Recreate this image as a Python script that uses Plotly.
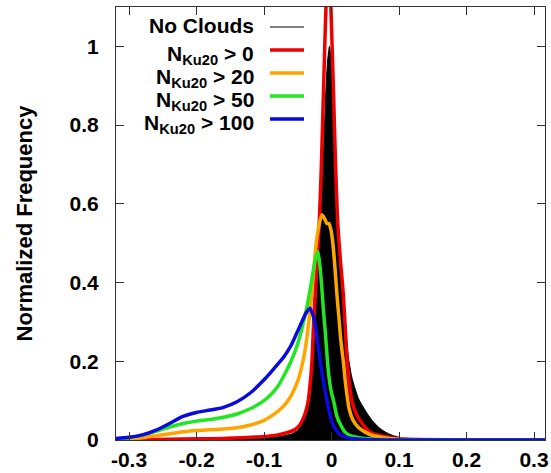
import plotly.graph_objects as go

# ---- data -------------------------------------------------------------
# No clouds (filled black histogram)
x_none = [-0.32, -0.2, -0.12, -0.08, -0.06, -0.05, -0.045, -0.04, -0.035, -0.031,
          -0.027, -0.023, -0.02, -0.016, -0.012, -0.009, -0.006, -0.003, 0.0, 0.003,
          0.006, 0.009, 0.013, 0.017, 0.021, 0.025, 0.03, 0.035, 0.04, 0.05,
          0.06, 0.07, 0.08, 0.09, 0.1, 0.12, 0.15, 0.2, 0.32]
y_none = [0.0, 0.001, 0.003, 0.008, 0.015, 0.025, 0.04, 0.06, 0.09, 0.14,
          0.22, 0.33, 0.42, 0.55, 0.72, 0.86, 0.96, 1.0, 0.95, 0.82,
          0.68, 0.56, 0.46, 0.37, 0.28, 0.21, 0.16, 0.13, 0.105, 0.075,
          0.05, 0.032, 0.02, 0.012, 0.007, 0.003, 0.001, 0.0, 0.0]

# N_Ku20 > 0
x_n0 = [-0.32, -0.28, -0.24, -0.2, -0.16, -0.13, -0.1, -0.08, -0.065, -0.055,
        -0.049, -0.044, -0.039, -0.035, -0.032, -0.029, -0.027, -0.024, -0.021, -0.018,
        -0.015, -0.012, -0.009, -0.0065, -0.0045, -0.0025, 0.0, 0.003, 0.006, 0.009,
        0.013, 0.0175, 0.0225, 0.026, 0.03, 0.037, 0.045, 0.057, 0.07, 0.085,
        0.1, 0.13, 0.2, 0.32]
y_n0 = [0.0, 0.001, 0.002, 0.003, 0.004, 0.006, 0.009, 0.013, 0.019, 0.026,
        0.034, 0.047, 0.068, 0.095, 0.136, 0.2, 0.28, 0.38, 0.47, 0.56,
        0.7, 0.88, 1.06, 1.17, 1.2, 1.17, 1.05, 0.88, 0.7, 0.56,
        0.46, 0.37, 0.22, 0.15, 0.1, 0.065, 0.043, 0.02, 0.012, 0.007,
        0.003, 0.001, 0.0, 0.0]

# N_Ku20 > 20
x_n20 = [-0.32, -0.3, -0.28, -0.26, -0.24, -0.22, -0.2, -0.18, -0.16, -0.14,
         -0.12, -0.1, -0.09, -0.08, -0.07, -0.06, -0.05, -0.045, -0.04, -0.035,
         -0.03, -0.026, -0.022, -0.018, -0.0145, -0.011, -0.007, -0.004, -0.001, 0.002,
         0.005, 0.008, 0.011, 0.014, 0.0175, 0.021, 0.026, 0.032, 0.04, 0.05,
         0.06, 0.08, 0.1, 0.15, 0.32]
y_n20 = [0.0, 0.002, 0.006, 0.011, 0.016, 0.021, 0.024, 0.026, 0.028, 0.031,
         0.038, 0.05, 0.06, 0.072, 0.088, 0.112, 0.15, 0.18, 0.22, 0.28,
         0.36, 0.44, 0.51, 0.55, 0.572, 0.565, 0.55, 0.55, 0.535, 0.5,
         0.44, 0.37, 0.31, 0.25, 0.2, 0.14, 0.08, 0.05, 0.032, 0.02,
         0.012, 0.005, 0.002, 0.0, 0.0]

# N_Ku20 > 50
x_n50 = [-0.32, -0.3, -0.28, -0.26, -0.24, -0.22, -0.2, -0.18, -0.16, -0.14,
         -0.12, -0.1, -0.09, -0.08, -0.07, -0.06, -0.05, -0.04, -0.034, -0.029,
         -0.025, -0.022, -0.02, -0.017, -0.0145, -0.012, -0.009, -0.006, -0.003, 0.0,
         0.003, 0.008, 0.013, 0.02, 0.03, 0.05, 0.08, 0.12, 0.32]
y_n50 = [0.002, 0.006, 0.013, 0.022, 0.033, 0.042, 0.048, 0.052, 0.058, 0.066,
         0.08, 0.1, 0.115, 0.135, 0.165, 0.2, 0.245, 0.31, 0.36, 0.41,
         0.45, 0.47, 0.478, 0.44, 0.39, 0.33, 0.27, 0.2, 0.15, 0.12,
         0.1, 0.06, 0.04, 0.02, 0.01, 0.004, 0.001, 0.0, 0.0]

# N_Ku20 > 100
x_n100 = [-0.32, -0.3, -0.28, -0.26, -0.24, -0.22, -0.2, -0.18, -0.16, -0.14,
          -0.12, -0.1, -0.09, -0.08, -0.07, -0.06, -0.05, -0.044, -0.038, -0.032,
          -0.028, -0.024, -0.02, -0.015, -0.01, -0.005, 0.0, 0.005, 0.012, 0.02,
          0.035, 0.05, 0.08, 0.32]
y_n100 = [0.004, 0.007, 0.013, 0.025, 0.042, 0.06, 0.07, 0.076, 0.083, 0.097,
          0.12, 0.153, 0.172, 0.192, 0.213, 0.24, 0.277, 0.3, 0.322, 0.335,
          0.32, 0.29, 0.24, 0.18, 0.13, 0.085, 0.05, 0.03, 0.015, 0.008,
          0.003, 0.001, 0.0, 0.0]

series_names = ["No Clouds", "N<sub>Ku20</sub> &gt; 0", "N<sub>Ku20</sub> &gt; 20",
                "N<sub>Ku20</sub> &gt; 50", "N<sub>Ku20</sub> &gt; 100"]
series_colors = ["#000000", "#ee0000", "#ffa500", "#22e622", "#0a0ae0"]

x_ticks = [-0.3, -0.2, -0.1, 0.0, 0.1, 0.2, 0.3]
x_tick_labels = ["-0.3", "-0.2", "-0.1", "0", "0.1", "0.2", "0.3"]
y_ticks = [0, 0.2, 0.4, 0.6, 0.8, 1.0]
y_tick_labels = ["0", "0.2", "0.4", "0.6", "0.8", "1"]

# ---- figure -----------------------------------------------------------
FONT = "Liberation Sans, Helvetica, Arial, sans-serif"
TXT = 21

fig = go.Figure()

fig.add_trace(go.Scatter(x=x_none, y=y_none, mode="lines", fill="tozeroy",
                         fillcolor="#000000",
                         line=dict(color=series_colors[0], width=1, shape="spline", smoothing=0.6),
                         showlegend=False))

for xs, ys, col in [(x_n0, y_n0, series_colors[1]),
                    (x_n20, y_n20, series_colors[2]),
                    (x_n50, y_n50, series_colors[3]),
                    (x_n100, y_n100, series_colors[4])]:
    fig.add_trace(go.Scatter(x=xs, y=ys, mode="lines",
                             line=dict(color=col, width=3.5, shape="spline", smoothing=0.6),
                             showlegend=False))

# key in the upper-left corner: right-aligned labels with line samples after them
key_rows_y = [27, 50, 73, 96, 119]  # pixel rows from the top of the page
plot_top, plot_bottom, plot_left, plot_right = 7, 440, 116, 545
ph = plot_bottom - plot_top
pw = plot_right - plot_left
for name, col, ry in zip(series_names, series_colors, key_rows_y):
    yp = (plot_bottom - ry) / ph
    fig.add_annotation(xref="paper", yref="paper",
                       x=(256 - plot_left) / pw, y=yp + (0.004 if name == "No Clouds" else -0.012),
                       xanchor="right", yanchor="middle", showarrow=False,
                       text=name, font=dict(family=FONT, size=TXT, color="#000000", weight="bold"))
    fig.add_shape(type="line", xref="paper", yref="paper",
                  x0=(270 - plot_left) / pw, x1=(304 - plot_left) / pw, y0=yp, y1=yp,
                  line=dict(color=col, width=1 if name == "No Clouds" else 3.5))

fig.add_annotation(xref="paper", yref="paper", x=(24 - plot_left) / pw, y=0.5,
                   xanchor="center", yanchor="middle", showarrow=False, textangle=-90,
                   text="Normalized Frequency",
                   font=dict(family=FONT, size=22, color="#000000", weight="bold"))

axis_common = dict(showline=True, linecolor="#333333", linewidth=1, mirror="ticks",
                   ticks="inside", ticklen=8, tickcolor="#333333", tickwidth=1,
                   showgrid=False, zeroline=False, automargin=False,
                   tickfont=dict(family=FONT, size=TXT, color="#000000", weight="bold"))

fig.update_xaxes(range=[-0.3193, 0.3163], tickvals=x_ticks, ticktext=x_tick_labels,
                 ticklabelstandoff=1, **axis_common)
fig.update_yaxes(range=[0, 1.1], tickvals=y_ticks, ticktext=y_tick_labels,
                 ticklabelstandoff=12, **axis_common)

fig.update_layout(width=551, height=473,
                  margin=dict(l=plot_left, r=551 - plot_right, t=plot_top, b=473 - plot_bottom,
                              autoexpand=False),
                  paper_bgcolor="white", plot_bgcolor="white", showlegend=False)

fig.write_html("out.html")
